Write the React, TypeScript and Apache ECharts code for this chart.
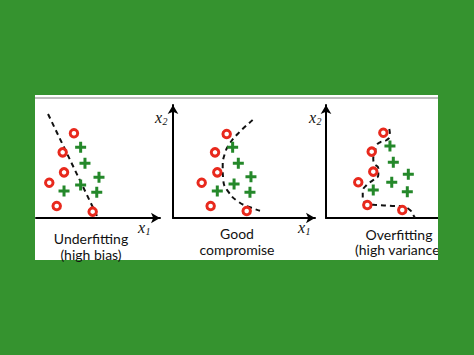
import React, { useEffect, useRef } from "react";
import * as echarts from "echarts";

// Panel 1: Underfitting
const p1Red = [[3.06, 7.5], [2.15, 5.81], [2.26, 4.04], [1.07, 3.12], [1.67, 1.06], [4.57, 0.56]];
const p1Green = [[3.6, 6.26], [3.95, 4.84], [5.08, 3.6], [3.6, 2.92], [2.26, 2.39], [4.9, 2.27]];
const p1Boundary = [[0.97, 9.2], [5.0, 0]];

// Panel 2: Good compromise
const p2Red = [[3.78, 7.43], [2.96, 5.81], [3.12, 4.04], [2.02, 3.12], [2.65, 1.06], [5.19, 0.62]];
const p2Green = [[4.2, 6.26], [4.6, 4.84], [5.49, 3.65], [4.3, 3.01], [3.12, 2.39], [5.42, 2.27]];
const p2Boundary = [
  [5.61, 8.67], [4.6, 7.5], [4.01, 6.61], [3.66, 5.73], [3.5, 4.54], [3.54, 3.36],
  [3.89, 2.33], [4.6, 1.44], [5.42, 0.95], [6.13, 0.65],
];

// Panel 3: Overfitting
const p3Red = [[5.12, 7.55], [4.08, 5.87], [4.22, 4.1], [2.88, 3.16], [3.69, 1.15], [6.81, 0.71]];
const p3Green = [[5.71, 6.37], [6.01, 4.93], [7.35, 3.87], [5.87, 3.16], [4.22, 2.48], [7.26, 2.33]];
const p3Boundary = [
  [5.65, 7.88], [5.71, 7.35], [5.42, 6.9], [4.82, 6.7], [4.46, 6.31], [4.38, 5.73],
  [4.22, 5.28], [4.29, 4.84], [4.67, 4.4], [4.67, 3.81], [4.22, 3.36], [3.63, 2.92],
  [3.28, 2.33], [3.28, 1.74], [3.63, 1.3], [4.53, 1.15], [5.71, 1.09], [6.9, 1.0],
  [7.5, 0.71], [7.79, 0.27], [7.95, 0],
];

const captions = [
  ["Underfitting", "(high bias)"],
  ["Good", "compromise"],
  ["Overfitting", "(high variance)"],
];

const RED = "#e8291d";
const GREEN = "#24882a";
const BG = "#35932f";
const PLUS = "path://M4,0H7V4H11V7H7V11H4V7H0V4H4Z";

export default function App() {
  const ref = useRef<HTMLDivElement>(null);
  useEffect(() => {
    document.body.style.margin = "0";
    const chart = echarts.init(ref.current!, null, { renderer: "svg" });
    const grids = [
      { left: 36, top: 105, width: 124, height: 113 },
      { left: 173, top: 105, width: 142, height: 113 },
      { left: 326, top: 105, width: 112, height: 113 },
    ];
    const axisLine = (arrow: boolean, show = true) => ({
      show,
      symbol: arrow ? ["none", "arrow"] : ["none", "none"],
      symbolSize: [8, 9],
      lineStyle: { color: "#000", width: 2 },
    });
    const xAxes = grids.map((_, i) => ({
      type: "value",
      gridIndex: i,
      min: 0,
      max: 10,
      axisLine: axisLine(i !== 2),
      axisTick: { show: false },
      axisLabel: { show: false },
      splitLine: { show: false },
    }));
    const yAxes = grids.map((_, i) => ({
      type: "value",
      gridIndex: i,
      min: 0,
      max: 10,
      axisLine: axisLine(true, i !== 0),
      axisTick: { show: false },
      axisLabel: { show: false },
      splitLine: { show: false },
    }));
    const panels = [
      [p1Red, p1Green, p1Boundary],
      [p2Red, p2Green, p2Boundary],
      [p3Red, p3Green, p3Boundary],
    ];
    const series: any[] = [];
    panels.forEach(([red, green, bnd], i) => {
      series.push({
        type: "line",
        xAxisIndex: i,
        yAxisIndex: i,
        data: bnd,
        symbol: "none",
        smooth: i === 0 ? false : 0.5,
        lineStyle: { color: "#111", width: 2, type: [5, 4] },
        z: 3,
      });
      series.push({
        type: "scatter",
        xAxisIndex: i,
        yAxisIndex: i,
        data: red,
        symbol: "circle",
        symbolSize: 7.5,
        itemStyle: { color: "#fff", borderColor: RED, borderWidth: 3, opacity: 1 },
        z: 4,
      });
      series.push({
        type: "scatter",
        xAxisIndex: i,
        yAxisIndex: i,
        data: green,
        symbol: PLUS,
        symbolSize: 11,
        itemStyle: { color: GREEN, opacity: 1 },
        z: 4,
      });
    });

    const capCenters = [[91, 238.5], [237, 233.5], [399, 234]];
    const lineGap = 15.5;
    const capText: any[] = [];
    captions.forEach((lines, i) => {
      lines.forEach((t, j) => {
        capText.push({
          type: "text",
          z: 50,
          style: {
            text: t,
            x: capCenters[i][0],
            y: capCenters[i][1] + j * lineGap,
            align: "center",
            verticalAlign: "middle",
            font: '14px "Lato", "Open Sans", sans-serif',
            fill: "#111",
          },
        });
      });
    });

    const axisName = (x: number, y: number, sub: string) => [
      {
        type: "text",
        z: 50,
        style: {
          text: "x",
          x,
          y,
          align: "left",
          verticalAlign: "middle",
          font: 'italic 16px "Liberation Serif", serif',
          fill: "#111",
        },
      },
      {
        type: "text",
        z: 50,
        style: {
          text: sub,
          x: x + 7.5,
          y: y + 4,
          align: "left",
          verticalAlign: "middle",
          font: 'italic 10px "Liberation Serif", serif',
          fill: "#111",
        },
      },
    ];

    chart.setOption({
      animation: false,
      backgroundColor: BG,
      grid: grids.map((g) => ({ ...g, containLabel: false })),
      xAxis: xAxes,
      yAxis: yAxes,
      series,
      graphic: [
        {
          type: "rect",
          z: -10,
          silent: true,
          shape: { x: 35, y: 95, width: 403, height: 165 },
          style: { fill: "#fff" },
        },
        {
          type: "line",
          z: -9,
          silent: true,
          shape: { x1: 35, y1: 98, x2: 438, y2: 98 },
          style: { stroke: "#a8a8a8", lineWidth: 1.5 },
        },
        ...capText,
        ...axisName(138, 227, "1"),
        ...axisName(298, 227, "1"),
        ...axisName(155, 117, "2"),
        ...axisName(309, 117, "2"),
        {
          type: "rect",
          z: 100,
          silent: true,
          shape: { x: 438, y: 90, width: 36, height: 175 },
          style: { fill: BG },
        },
      ],
    });
    return () => chart.dispose();
  }, []);
  return (
    <div
      ref={ref}
      style={{ position: "fixed", left: 0, top: 0, width: 474, height: 355 }}
    />
  );
}
